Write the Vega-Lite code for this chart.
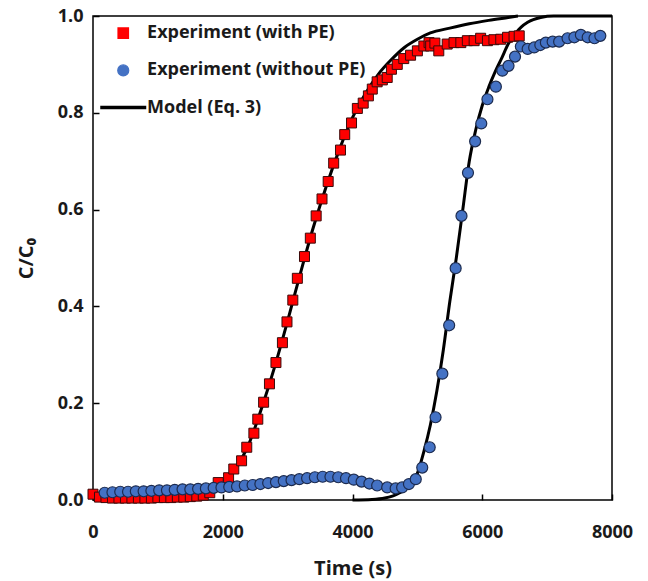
{
  "$schema": "https://vega.github.io/schema/vega-lite/v6.json",
  "width": 519,
  "height": 484,
  "autosize": {"type": "none"},
  "padding": {"left": 93, "top": 16, "right": 36, "bottom": 81},
  "background": "white",
  "config": {
    "view": {"stroke": "black", "strokeWidth": 1.5},
    "font": "Open Sans",
    "axis": {
      "grid": false,
      "domain": false,
      "labelFlush": false,
      "tickColor": "black",
      "tickSize": -6,
      "tickWidth": 1.5,
      "labelFont": "Open Sans",
      "labelFontWeight": "bold",
      "labelFontSize": 18,
      "labelColor": "#1a1a1a",
      "titleFont": "Open Sans",
      "titleFontWeight": "bold",
      "titleFontSize": 20,
      "titleColor": "#1a1a1a"
    },
    "legend": {
      "orient": "none",
      "legendX": 0,
      "legendY": 8.2,
      "padding": 0,
      "symbolSize": 121,
      "symbolOffset": 21.25,
      "rowPadding": 19.2,
      "labelOffset": 14.8,
      "labelFont": "Open Sans",
      "labelFontWeight": "bold",
      "labelFontSize": 18,
      "labelColor": "#1a1a1a",
      "labelLimit": 400,
      "symbolStrokeWidth": 1.5
    }
  },
  "data": {
    "values": [
      {"series": "Model (Eq. 3)", "curve": "A", "t": 1400, "v": 0},
      {"series": "Model (Eq. 3)", "curve": "A", "t": 1600, "v": 0.003},
      {"series": "Model (Eq. 3)", "curve": "A", "t": 1800, "v": 0.012},
      {"series": "Model (Eq. 3)", "curve": "A", "t": 2000, "v": 0.03},
      {"series": "Model (Eq. 3)", "curve": "A", "t": 2200, "v": 0.065},
      {"series": "Model (Eq. 3)", "curve": "A", "t": 2400, "v": 0.115},
      {"series": "Model (Eq. 3)", "curve": "A", "t": 2600, "v": 0.19},
      {"series": "Model (Eq. 3)", "curve": "A", "t": 2800, "v": 0.275},
      {"series": "Model (Eq. 3)", "curve": "A", "t": 3000, "v": 0.37},
      {"series": "Model (Eq. 3)", "curve": "A", "t": 3200, "v": 0.47},
      {"series": "Model (Eq. 3)", "curve": "A", "t": 3400, "v": 0.565},
      {"series": "Model (Eq. 3)", "curve": "A", "t": 3600, "v": 0.65},
      {"series": "Model (Eq. 3)", "curve": "A", "t": 3800, "v": 0.725},
      {"series": "Model (Eq. 3)", "curve": "A", "t": 4000, "v": 0.79},
      {"series": "Model (Eq. 3)", "curve": "A", "t": 4200, "v": 0.84},
      {"series": "Model (Eq. 3)", "curve": "A", "t": 4400, "v": 0.88},
      {"series": "Model (Eq. 3)", "curve": "A", "t": 4600, "v": 0.91},
      {"series": "Model (Eq. 3)", "curve": "A", "t": 4800, "v": 0.935},
      {"series": "Model (Eq. 3)", "curve": "A", "t": 5000, "v": 0.952},
      {"series": "Model (Eq. 3)", "curve": "A", "t": 5200, "v": 0.965},
      {"series": "Model (Eq. 3)", "curve": "A", "t": 5500, "v": 0.975},
      {"series": "Model (Eq. 3)", "curve": "A", "t": 5800, "v": 0.984},
      {"series": "Model (Eq. 3)", "curve": "A", "t": 6100, "v": 0.991},
      {"series": "Model (Eq. 3)", "curve": "A", "t": 6400, "v": 0.997},
      {"series": "Model (Eq. 3)", "curve": "A", "t": 6550, "v": 1.0},
      {"series": "Model (Eq. 3)", "curve": "B", "t": 4000, "v": 0},
      {"series": "Model (Eq. 3)", "curve": "B", "t": 4300, "v": 0.001},
      {"series": "Model (Eq. 3)", "curve": "B", "t": 4500, "v": 0.004},
      {"series": "Model (Eq. 3)", "curve": "B", "t": 4700, "v": 0.013},
      {"series": "Model (Eq. 3)", "curve": "B", "t": 4900, "v": 0.033},
      {"series": "Model (Eq. 3)", "curve": "B", "t": 5000, "v": 0.055},
      {"series": "Model (Eq. 3)", "curve": "B", "t": 5100, "v": 0.1},
      {"series": "Model (Eq. 3)", "curve": "B", "t": 5200, "v": 0.155},
      {"series": "Model (Eq. 3)", "curve": "B", "t": 5300, "v": 0.225},
      {"series": "Model (Eq. 3)", "curve": "B", "t": 5400, "v": 0.31},
      {"series": "Model (Eq. 3)", "curve": "B", "t": 5500, "v": 0.41},
      {"series": "Model (Eq. 3)", "curve": "B", "t": 5600, "v": 0.5},
      {"series": "Model (Eq. 3)", "curve": "B", "t": 5700, "v": 0.6},
      {"series": "Model (Eq. 3)", "curve": "B", "t": 5800, "v": 0.7},
      {"series": "Model (Eq. 3)", "curve": "B", "t": 5900, "v": 0.765},
      {"series": "Model (Eq. 3)", "curve": "B", "t": 6000, "v": 0.815},
      {"series": "Model (Eq. 3)", "curve": "B", "t": 6100, "v": 0.853},
      {"series": "Model (Eq. 3)", "curve": "B", "t": 6200, "v": 0.885},
      {"series": "Model (Eq. 3)", "curve": "B", "t": 6300, "v": 0.913},
      {"series": "Model (Eq. 3)", "curve": "B", "t": 6400, "v": 0.942},
      {"series": "Model (Eq. 3)", "curve": "B", "t": 6500, "v": 0.962},
      {"series": "Model (Eq. 3)", "curve": "B", "t": 6600, "v": 0.977},
      {"series": "Model (Eq. 3)", "curve": "B", "t": 6700, "v": 0.987},
      {"series": "Model (Eq. 3)", "curve": "B", "t": 6900, "v": 0.997},
      {"series": "Model (Eq. 3)", "curve": "B", "t": 7100, "v": 1.0},
      {"series": "Model (Eq. 3)", "curve": "B", "t": 8000, "v": 1.0},

      {"series": "Experiment (with PE)", "t": 0, "v": 0.012},
      {"series": "Experiment (with PE)", "t": 100, "v": 0.006},
      {"series": "Experiment (with PE)", "t": 200, "v": 0.005},
      {"series": "Experiment (with PE)", "t": 300, "v": 0.004},
      {"series": "Experiment (with PE)", "t": 400, "v": 0.004},
      {"series": "Experiment (with PE)", "t": 500, "v": 0.004},
      {"series": "Experiment (with PE)", "t": 600, "v": 0.004},
      {"series": "Experiment (with PE)", "t": 700, "v": 0.004},
      {"series": "Experiment (with PE)", "t": 800, "v": 0.004},
      {"series": "Experiment (with PE)", "t": 900, "v": 0.004},
      {"series": "Experiment (with PE)", "t": 1000, "v": 0.005},
      {"series": "Experiment (with PE)", "t": 1100, "v": 0.005},
      {"series": "Experiment (with PE)", "t": 1200, "v": 0.005},
      {"series": "Experiment (with PE)", "t": 1300, "v": 0.006},
      {"series": "Experiment (with PE)", "t": 1400, "v": 0.006},
      {"series": "Experiment (with PE)", "t": 1500, "v": 0.007},
      {"series": "Experiment (with PE)", "t": 1600, "v": 0.008},
      {"series": "Experiment (with PE)", "t": 1700, "v": 0.01},
      {"series": "Experiment (with PE)", "t": 1800, "v": 0.015},
      {"series": "Experiment (with PE)", "t": 1930, "v": 0.036},
      {"series": "Experiment (with PE)", "t": 2090, "v": 0.046},
      {"series": "Experiment (with PE)", "t": 2170, "v": 0.064},
      {"series": "Experiment (with PE)", "t": 2290, "v": 0.081},
      {"series": "Experiment (with PE)", "t": 2370, "v": 0.109},
      {"series": "Experiment (with PE)", "t": 2480, "v": 0.138},
      {"series": "Experiment (with PE)", "t": 2540, "v": 0.167},
      {"series": "Experiment (with PE)", "t": 2630, "v": 0.202},
      {"series": "Experiment (with PE)", "t": 2720, "v": 0.24},
      {"series": "Experiment (with PE)", "t": 2820, "v": 0.284},
      {"series": "Experiment (with PE)", "t": 2920, "v": 0.325},
      {"series": "Experiment (with PE)", "t": 2990, "v": 0.368},
      {"series": "Experiment (with PE)", "t": 3080, "v": 0.413},
      {"series": "Experiment (with PE)", "t": 3150, "v": 0.458},
      {"series": "Experiment (with PE)", "t": 3260, "v": 0.503},
      {"series": "Experiment (with PE)", "t": 3350, "v": 0.541},
      {"series": "Experiment (with PE)", "t": 3440, "v": 0.587},
      {"series": "Experiment (with PE)", "t": 3530, "v": 0.622},
      {"series": "Experiment (with PE)", "t": 3625, "v": 0.658},
      {"series": "Experiment (with PE)", "t": 3710, "v": 0.696},
      {"series": "Experiment (with PE)", "t": 3815, "v": 0.723},
      {"series": "Experiment (with PE)", "t": 3880, "v": 0.755},
      {"series": "Experiment (with PE)", "t": 3985, "v": 0.779},
      {"series": "Experiment (with PE)", "t": 4075, "v": 0.809},
      {"series": "Experiment (with PE)", "t": 4165, "v": 0.82},
      {"series": "Experiment (with PE)", "t": 4245, "v": 0.835},
      {"series": "Experiment (with PE)", "t": 4305, "v": 0.849},
      {"series": "Experiment (with PE)", "t": 4380, "v": 0.864},
      {"series": "Experiment (with PE)", "t": 4460, "v": 0.868},
      {"series": "Experiment (with PE)", "t": 4535, "v": 0.873},
      {"series": "Experiment (with PE)", "t": 4600, "v": 0.89},
      {"series": "Experiment (with PE)", "t": 4690, "v": 0.9},
      {"series": "Experiment (with PE)", "t": 4790, "v": 0.912},
      {"series": "Experiment (with PE)", "t": 4895, "v": 0.919},
      {"series": "Experiment (with PE)", "t": 5000, "v": 0.928},
      {"series": "Experiment (with PE)", "t": 5100, "v": 0.938},
      {"series": "Experiment (with PE)", "t": 5180, "v": 0.945},
      {"series": "Experiment (with PE)", "t": 5205, "v": 0.938},
      {"series": "Experiment (with PE)", "t": 5270, "v": 0.944},
      {"series": "Experiment (with PE)", "t": 5330, "v": 0.928},
      {"series": "Experiment (with PE)", "t": 5460, "v": 0.942},
      {"series": "Experiment (with PE)", "t": 5565, "v": 0.945},
      {"series": "Experiment (with PE)", "t": 5670, "v": 0.945},
      {"series": "Experiment (with PE)", "t": 5770, "v": 0.949},
      {"series": "Experiment (with PE)", "t": 5875, "v": 0.949},
      {"series": "Experiment (with PE)", "t": 5975, "v": 0.954},
      {"series": "Experiment (with PE)", "t": 6080, "v": 0.949},
      {"series": "Experiment (with PE)", "t": 6180, "v": 0.951},
      {"series": "Experiment (with PE)", "t": 6285, "v": 0.952},
      {"series": "Experiment (with PE)", "t": 6390, "v": 0.956},
      {"series": "Experiment (with PE)", "t": 6490, "v": 0.958},
      {"series": "Experiment (with PE)", "t": 6570, "v": 0.959},

      {"series": "Experiment (without PE)", "t": 180, "v": 0.015},
      {"series": "Experiment (without PE)", "t": 300, "v": 0.016},
      {"series": "Experiment (without PE)", "t": 420, "v": 0.017},
      {"series": "Experiment (without PE)", "t": 540, "v": 0.017},
      {"series": "Experiment (without PE)", "t": 660, "v": 0.018},
      {"series": "Experiment (without PE)", "t": 780, "v": 0.018},
      {"series": "Experiment (without PE)", "t": 900, "v": 0.019},
      {"series": "Experiment (without PE)", "t": 1020, "v": 0.02},
      {"series": "Experiment (without PE)", "t": 1140, "v": 0.02},
      {"series": "Experiment (without PE)", "t": 1260, "v": 0.021},
      {"series": "Experiment (without PE)", "t": 1380, "v": 0.022},
      {"series": "Experiment (without PE)", "t": 1500, "v": 0.022},
      {"series": "Experiment (without PE)", "t": 1620, "v": 0.023},
      {"series": "Experiment (without PE)", "t": 1740, "v": 0.024},
      {"series": "Experiment (without PE)", "t": 1860, "v": 0.025},
      {"series": "Experiment (without PE)", "t": 1980, "v": 0.026},
      {"series": "Experiment (without PE)", "t": 2100, "v": 0.027},
      {"series": "Experiment (without PE)", "t": 2220, "v": 0.028},
      {"series": "Experiment (without PE)", "t": 2340, "v": 0.03},
      {"series": "Experiment (without PE)", "t": 2460, "v": 0.031},
      {"series": "Experiment (without PE)", "t": 2580, "v": 0.033},
      {"series": "Experiment (without PE)", "t": 2700, "v": 0.035},
      {"series": "Experiment (without PE)", "t": 2820, "v": 0.037},
      {"series": "Experiment (without PE)", "t": 2940, "v": 0.039},
      {"series": "Experiment (without PE)", "t": 3060, "v": 0.041},
      {"series": "Experiment (without PE)", "t": 3180, "v": 0.043},
      {"series": "Experiment (without PE)", "t": 3300, "v": 0.045},
      {"series": "Experiment (without PE)", "t": 3420, "v": 0.047},
      {"series": "Experiment (without PE)", "t": 3540, "v": 0.048},
      {"series": "Experiment (without PE)", "t": 3660, "v": 0.048},
      {"series": "Experiment (without PE)", "t": 3780, "v": 0.047},
      {"series": "Experiment (without PE)", "t": 3900, "v": 0.045},
      {"series": "Experiment (without PE)", "t": 4020, "v": 0.042},
      {"series": "Experiment (without PE)", "t": 4140, "v": 0.038},
      {"series": "Experiment (without PE)", "t": 4260, "v": 0.034},
      {"series": "Experiment (without PE)", "t": 4380, "v": 0.03},
      {"series": "Experiment (without PE)", "t": 4535, "v": 0.026},
      {"series": "Experiment (without PE)", "t": 4665, "v": 0.024},
      {"series": "Experiment (without PE)", "t": 4765, "v": 0.026},
      {"series": "Experiment (without PE)", "t": 4870, "v": 0.033},
      {"series": "Experiment (without PE)", "t": 4975, "v": 0.043},
      {"series": "Experiment (without PE)", "t": 5075, "v": 0.067},
      {"series": "Experiment (without PE)", "t": 5190, "v": 0.109},
      {"series": "Experiment (without PE)", "t": 5280, "v": 0.171},
      {"series": "Experiment (without PE)", "t": 5385, "v": 0.261},
      {"series": "Experiment (without PE)", "t": 5490, "v": 0.361},
      {"series": "Experiment (without PE)", "t": 5590, "v": 0.479},
      {"series": "Experiment (without PE)", "t": 5680, "v": 0.587},
      {"series": "Experiment (without PE)", "t": 5780, "v": 0.676},
      {"series": "Experiment (without PE)", "t": 5890, "v": 0.741},
      {"series": "Experiment (without PE)", "t": 5985, "v": 0.778},
      {"series": "Experiment (without PE)", "t": 6080, "v": 0.828},
      {"series": "Experiment (without PE)", "t": 6210, "v": 0.854},
      {"series": "Experiment (without PE)", "t": 6310, "v": 0.887},
      {"series": "Experiment (without PE)", "t": 6405, "v": 0.897},
      {"series": "Experiment (without PE)", "t": 6505, "v": 0.916},
      {"series": "Experiment (without PE)", "t": 6595, "v": 0.937},
      {"series": "Experiment (without PE)", "t": 6700, "v": 0.932},
      {"series": "Experiment (without PE)", "t": 6800, "v": 0.935},
      {"series": "Experiment (without PE)", "t": 6895, "v": 0.94},
      {"series": "Experiment (without PE)", "t": 6980, "v": 0.945},
      {"series": "Experiment (without PE)", "t": 7085, "v": 0.947},
      {"series": "Experiment (without PE)", "t": 7185, "v": 0.947},
      {"series": "Experiment (without PE)", "t": 7315, "v": 0.954},
      {"series": "Experiment (without PE)", "t": 7420, "v": 0.956},
      {"series": "Experiment (without PE)", "t": 7520, "v": 0.961},
      {"series": "Experiment (without PE)", "t": 7625, "v": 0.956},
      {"series": "Experiment (without PE)", "t": 7730, "v": 0.954},
      {"series": "Experiment (without PE)", "t": 7820, "v": 0.959}
    ]
  },
  "encoding": {
    "x": {
      "field": "t",
      "type": "quantitative",
      "scale": {"domain": [0, 8000], "nice": false},
      "axis": {"values": [0, 2000, 4000, 6000, 8000], "format": "d", "title": "Time (s)", "labelPadding": 29, "titlePadding": 17}
    },
    "y": {
      "field": "v",
      "type": "quantitative",
      "scale": {"domain": [0, 1], "nice": false},
      "axis": {"values": [0, 0.2, 0.4, 0.6, 0.8, 1], "format": ".1f", "title": "C/C₀", "labelPadding": 16, "titlePadding": 21}
    },
    "color": {
      "field": "series",
      "type": "nominal",
      "scale": {
        "domain": ["Experiment (with PE)", "Experiment (without PE)", "Model (Eq. 3)"],
        "range": ["#ff0000", "#4472c4", "#000000"]
      },
      "legend": {
        "title": null,
        "encode": {
          "symbols": {
            "update": {
              "fill": {"signal": "datum.value === 'Experiment (with PE)' ? '#ff0000' : datum.value === 'Experiment (without PE)' ? '#4472c4' : 'transparent'"},
              "stroke": {"signal": "datum.value === 'Experiment (with PE)' ? '#3b0a0a' : datum.value === 'Experiment (without PE)' ? '#1c2b4f' : '#000000'"},
              "strokeWidth": {"signal": "datum.value === 'Model (Eq. 3)' ? 3.5 : 1.2"},
              "size": {"signal": "datum.value === 'Model (Eq. 3)' ? 2116 : datum.value === 'Experiment (with PE)' ? 110 : 121"},
              "shape": {"signal": "datum.value === 'Experiment (with PE)' ? 'square' : datum.value === 'Experiment (without PE)' ? 'circle' : 'stroke'"},
              "opacity": {"value": 1}
            }
          }
        }
      }
    }
  },
  "layer": [
    {
      "transform": [{"filter": "datum.series === 'Model (Eq. 3)'"}],
      "mark": {"type": "line", "strokeWidth": 3, "interpolate": "monotone"},
      "encoding": {"detail": {"field": "curve"}}
    },
    {
      "transform": [{"filter": "datum.series === 'Experiment (with PE)'"}],
      "mark": {"type": "point", "shape": "square", "filled": true, "size": 100, "stroke": "#3b0a0a", "strokeWidth": 1, "opacity": 1}
    },
    {
      "transform": [{"filter": "datum.series === 'Experiment (without PE)'"}],
      "mark": {"type": "point", "shape": "circle", "filled": true, "size": 121, "stroke": "#1c2b4f", "strokeWidth": 1.2, "opacity": 1}
    }
  ]
}
